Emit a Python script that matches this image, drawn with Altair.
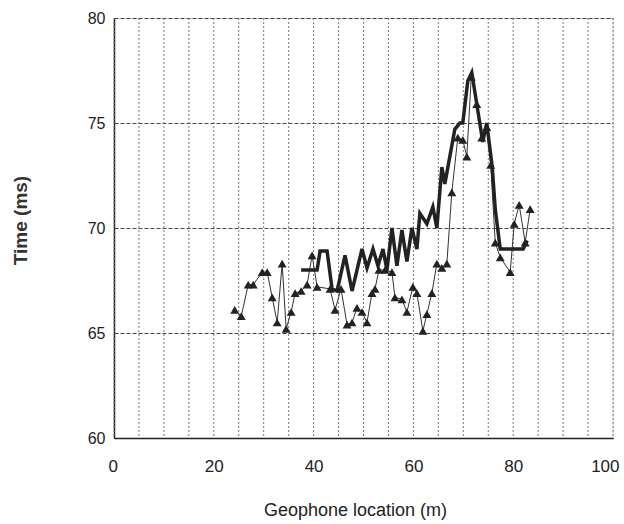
import altair as alt
import pandas as pd

# Thin series with triangle markers (geophone location m, time ms)
tri_x = [24.2, 25.5, 26.9, 27.9, 29.7, 30.7, 31.7, 32.7, 33.7, 34.5, 35.5, 36.3,
         37.5, 38.7, 39.7, 40.7, 43.3, 44.3, 45.5, 46.7, 47.7, 48.7, 49.7, 50.7,
         51.7, 52.3, 53.1, 54.3, 55.7, 56.3, 57.7, 58.7, 59.9, 60.7, 61.9, 62.7,
         63.7, 64.7, 65.7, 66.7, 67.7, 68.9, 69.9, 70.7, 71.6, 72.7, 73.7, 74.7,
         75.5, 76.4, 77.4, 79.4, 80.2, 81.2, 82.4, 83.4]
tri_y = [66.1, 65.8, 67.3, 67.3, 67.9, 67.9, 66.7, 65.5, 68.3, 65.2, 66.0, 66.9,
         67.0, 67.3, 68.7, 67.2, 67.1, 66.1, 67.1, 65.4, 65.5, 66.2, 66.0, 65.5,
         66.9, 67.1, 68.0, 68.0, 67.9, 66.7, 66.6, 66.0, 67.2, 66.9, 65.1, 65.9,
         66.9, 68.3, 68.1, 68.3, 71.7, 74.3, 74.2, 73.4, 77.2, 75.9, 74.3, 74.8,
         73.0, 69.3, 68.6, 67.9, 70.2, 71.1, 69.3, 70.9]

# Thick series
thick_x = [37.5, 40.7, 41.3, 42.7, 43.7, 44.7, 46.3, 47.7, 49.7, 50.7, 51.9, 52.9,
           53.9, 54.7, 55.7, 56.7, 57.7, 58.7, 59.7, 60.7, 61.3, 62.7, 63.9, 64.7,
           65.7, 66.3, 68.3, 69.3, 69.9, 70.9, 71.7, 73.3, 73.9, 74.7, 75.8, 76.4,
           77.4, 82.0, 82.8]
thick_y = [68.0, 68.0, 68.9, 68.9, 67.1, 67.0, 68.7, 67.0, 69.0, 68.1, 69.0, 68.2,
           69.0, 68.0, 70.0, 68.2, 69.9, 68.4, 70.0, 69.0, 70.7, 70.2, 71.0, 70.0,
           72.9, 72.1, 74.7, 75.0, 75.0, 77.0, 77.4, 75.0, 74.1, 75.0, 72.9, 70.9,
           69.0, 69.0, 69.4]

x_grid = [0, 5, 10, 15, 20, 25, 30, 35, 40, 45, 50, 55, 60, 65, 70, 75, 80, 85, 90, 95, 100]
x_labels = [0, 20, 40, 60, 80, 100]
y_ticks = [60, 65, 70, 75, 80]

tri_df = pd.DataFrame({"x": tri_x, "y": tri_y})
thick_df = pd.DataFrame({"x": thick_x, "y": thick_y})
grid_df = pd.DataFrame({"x": x_grid})

FONT = "Liberation Sans"

x_scale = alt.Scale(domain=[0, 100], nice=False, zero=False)
y_scale = alt.Scale(domain=[60, 80], nice=False, zero=False)

x_enc = alt.X("x:Q", scale=x_scale,
              axis=alt.Axis(values=x_labels, title="Geophone location (m)", grid=False,
                            ticks=False, domain=True, domainColor="#222", domainWidth=1.5,
                            labelFlush=True, labelFlushOffset=6,
                            labelFont=FONT, labelFontSize=17, labelColor="#222",
                            labelPadding=20, titleFont=FONT, titleFontSize=18,
                            titleFontWeight="normal", titleColor="#222",
                            titleX=241, titleY=72, titleBaseline="middle", titleAnchor="middle"))
y_enc = alt.Y("y:Q", scale=y_scale,
              axis=alt.Axis(values=y_ticks, title="Time (ms)", grid=True, gridColor="#444",
                            gridDash=[4, 2], gridWidth=1, ticks=False, domain=True,
                            domainColor="#222", domainWidth=1.5,
                            labelFont=FONT, labelFontSize=16, labelColor="#222",
                            labelPadding=9, labelFlush=False,
                            titleFont=FONT, titleFontSize=19,
                            titleFontWeight="bold", titleColor="#333", titleAngle=-90,
                            titleX=-94, titleY=202, titleAlign="center",
                            titleBaseline="middle"))

vgrid = alt.Chart(grid_df).mark_rule(color="#777", strokeWidth=1, strokeDash=[2, 2]).encode(
    x=x_enc, y=alt.value(0), y2=alt.value(420))
thin_line = alt.Chart(tri_df).mark_line(color="#333", strokeWidth=1).encode(x=x_enc, y=y_enc)
tri_pts = alt.Chart(tri_df).mark_point(shape="triangle-up", filled=True, color="#222",
                                        size=80, opacity=1).encode(x=x_enc, y=y_enc)
thick_line = alt.Chart(thick_df).mark_line(color="#222", strokeWidth=3.5,
                                           strokeJoin="miter").encode(x=x_enc, y=y_enc)

chart = alt.layer(vgrid, thin_line, thick_line, tri_pts).properties(
    width=499, height=420,
    autosize=alt.AutoSizeParams(type="none"),
    padding={"left": 114, "top": 18, "right": 11, "bottom": 86},
).configure_view(stroke="#222", strokeWidth=1.5).configure(background="white")

chart.save("out.html", embed_options={"renderer": "svg", "actions": False})
